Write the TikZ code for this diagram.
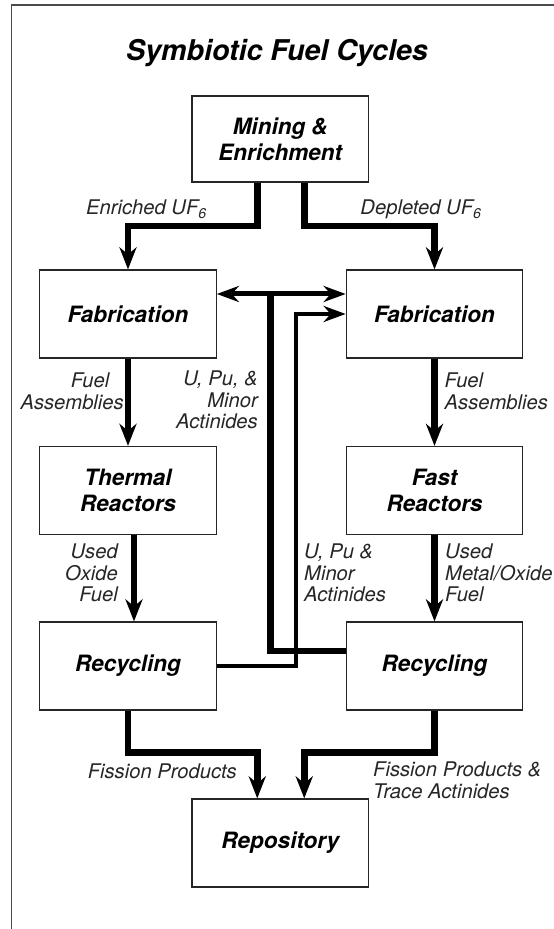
\documentclass[tikz,border=0pt]{standalone}
\usepackage{fontspec}
\setmainfont{TeX Gyre Heros}
\usetikzlibrary{arrows.meta,calc}
\begin{document}
\begin{tikzpicture}[x=1pt,y=1pt,
  box/.style={draw=black!85, line width=1.2pt, minimum width=176.5pt, minimum height=88pt,
    inner sep=0pt, align=center, font=\fontsize{22.5}{26}\selectfont\bfseries\itshape},
  lbl/.style={inner sep=0pt, font=\fontsize{20.2}{21}\selectfont\itshape, text=black!85},
  flow/.style={line width=6.5pt, -{Stealth[length=22pt,width=17pt,inset=7pt]}},
  dbl/.style={line width=5pt, {Stealth[length=22pt,width=16pt,inset=7pt]}-{Stealth[length=22pt,width=16pt,inset=7pt]}},
  fbthick/.style={line width=6.5pt},
  fbthin/.style={line width=4.3pt, -{Stealth[length=22pt,width=16pt,inset=7pt]}},
  frame/.style={line width=1.5pt, draw=black!70}
]
\useasboundingbox (0,0) rectangle (554,929);
\clip (0,0) rectangle (554,929);
\draw[frame] (11.7,-20) -- (11.7,924) -- (600,924);

\node[inner sep=0pt, anchor=base, font=\fontsize{28.6}{30}\selectfont\bfseries\itshape] (title) at (277,868) {Symbiotic Fuel Cycles};

\node[box, minimum height=86pt] (mine) at (280.25,790) {Mining \&\\Enrichment};
\node[box] (lfab) at (128,615) {Fabrication};
\node[box] (rfab) at (434.5,615) {Fabrication};
\node[box] (ltherm) at (128,438.5) {Thermal\\Reactors};
\node[box] (rfast) at (434.5,438.5) {Fast\\Reactors};
\node[box] (lrec) at (128,263) {Recycling};
\node[box] (rrec) at (434.5,263) {Recycling};
\node[box] (repo) at (280.25,86) {Repository};

% main flows
\draw[flow] ([xshift=-23pt]mine.south) |- ($(lfab.north)+(0,43.3)$) -- (lfab.north);
\draw[flow] ([xshift=24pt]mine.south) |- ($(rfab.north)+(0,43.3)$) -- (rfab.north);
\draw[flow] (lfab.south) -- (ltherm.north);
\draw[flow] (rfab.south) -- (rfast.north);
\draw[flow] ([xshift=6pt]ltherm.south) -- ([xshift=6pt]lrec.north);
\draw[flow] (rfast.south) -- (rrec.north);
\draw[flow] (lrec.south) |- ($([xshift=-23pt]repo.north)+(0,46)$) -- ([xshift=-23pt]repo.north);
\draw[flow] (rrec.south) |- ($([xshift=24pt]repo.north)+(0,46)$) -- ([xshift=24pt]repo.north);

% feedback
\draw[dbl] ([yshift=20pt]lfab.east) -- coordinate[pos=0.415] (jn) ([yshift=20pt]rfab.west);
\draw[fbthick] ([yshift=15pt]rrec.west) -| (jn);
\draw[fbthin] (lrec.east) -| ($(rfab.west)+(-50,0)$) -- (rfab.west);

% labels
\node[lbl, anchor=base] (enr) at (146.5,714) {Enriched UF\textsubscript{6}};
\node[lbl, anchor=base] (dep) at (421,714) {Depleted UF\textsubscript{6}};
\node[lbl, anchor=base east] (fa1) at (124,541) {\begin{tabular}[t]{@{}r@{}}Fuel\hspace*{14.5pt}\\Assemblies\end{tabular}};
\node[lbl, anchor=base west] (fa2) at (444.5,541) {\begin{tabular}[t]{@{}l@{}}Fuel\\Assemblies\end{tabular}};
\node[lbl, anchor=base east] (upu1) at (258,543) {\begin{tabular}[t]{@{}r@{}}U, Pu, \&\\Minor\\Actinides\end{tabular}};
\node[lbl, anchor=base east] (uof) at (118,370) {\begin{tabular}[t]{@{}r@{}}Used\\Oxide\\Fuel\end{tabular}};
\node[lbl, anchor=base west] (upu2) at (304,370) {\begin{tabular}[t]{@{}l@{}}U, Pu \&\\Minor\\Actinides\end{tabular}};
\node[lbl, anchor=base west] (umo) at (445,370) {\begin{tabular}[t]{@{}l@{}}Used\\Metal/Oxide\\Fuel\end{tabular}};
\node[lbl, anchor=base] (fp1) at (162.3,150) {Fission Products};
\node[lbl, anchor=base west] (fp2) at (373,152) {\begin{tabular}[t]{@{}l@{}}Fission Products \&\\Trace Actinides\end{tabular}};
\end{tikzpicture}
\end{document}
